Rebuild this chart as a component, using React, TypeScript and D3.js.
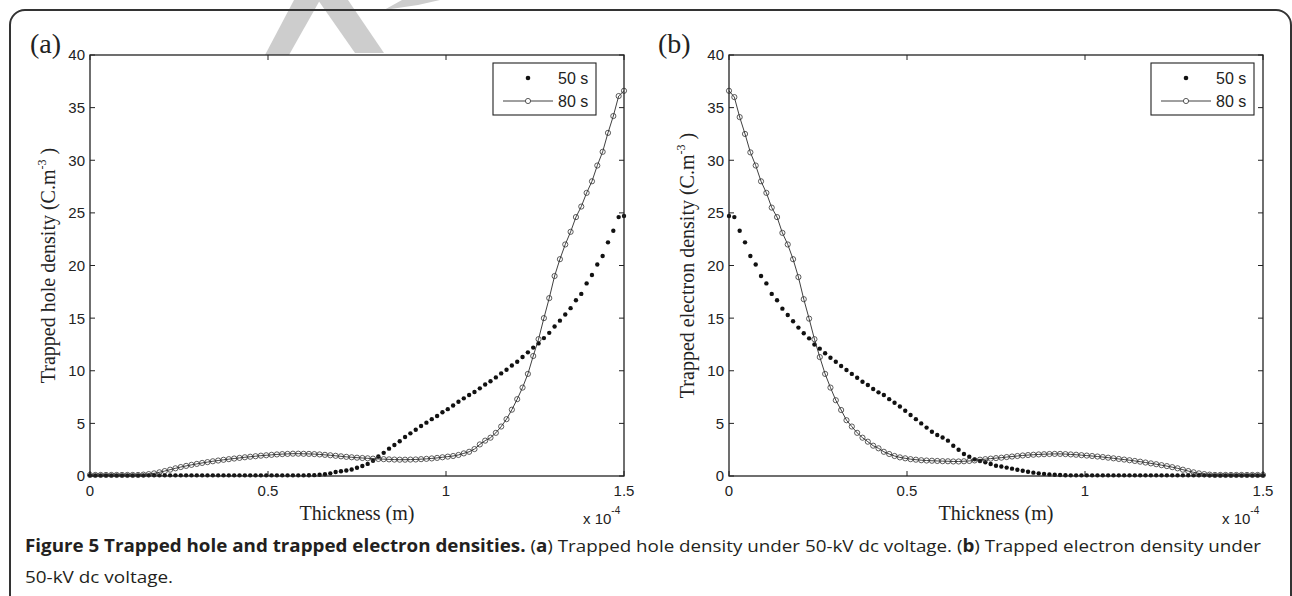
import React from 'react';
import * as d3 from 'd3';

// ---------- data ----------
const THICKNESS_STEP = 1.5e-6; // m, sample spacing of the simulation grid
const THICKNESS = d3.range(101).map((i) => i * THICKNESS_STEP);

// (a) trapped hole density, C.m^-3
const HOLE_50S = [
  0.06, 0.06, 0.06, 0.06, 0.06, 0.06, 0.06, 0.06, 0.06, 0.06,
  0.06, 0.06, 0.06, 0.06, 0.06, 0.06, 0.06, 0.06, 0.06, 0.06,
  0.06, 0.06, 0.06, 0.06, 0.06, 0.06, 0.06, 0.06, 0.06, 0.06,
  0.06, 0.06, 0.06, 0.06, 0.06, 0.06, 0.06, 0.06, 0.06, 0.06,
  0.06, 0.07, 0.08, 0.12, 0.17, 0.25, 0.38, 0.45, 0.52, 0.62,
  0.78, 0.95, 1.15, 1.45, 1.85, 2.2, 2.6, 2.95, 3.3, 3.7,
  4.05, 4.4, 4.75, 5.07, 5.4, 5.7, 6.05, 6.35, 6.7, 7.06,
  7.38, 7.7, 7.98, 8.33, 8.7, 9.0, 9.37, 9.75, 10.1, 10.5,
  10.86, 11.3, 11.75, 12.2, 12.6, 13.1, 13.6, 14.2, 14.76, 15.35,
  15.95, 16.7, 17.3, 18.3, 19.1, 20.1, 20.9, 22.2, 23.3, 24.6,
  24.7,
];
const HOLE_80S = [
  0.1, 0.1, 0.1, 0.1, 0.1, 0.1, 0.1, 0.1, 0.1, 0.1,
  0.13, 0.18, 0.25, 0.35, 0.47, 0.6, 0.73, 0.85, 0.96, 1.06,
  1.15, 1.24, 1.32, 1.4, 1.47, 1.54, 1.6, 1.66, 1.72, 1.78,
  1.83, 1.88, 1.93, 1.97, 2.01, 2.05, 2.08, 2.1, 2.12, 2.12,
  2.11, 2.1, 2.08, 2.05, 2.01, 1.97, 1.92, 1.87, 1.82, 1.78,
  1.74, 1.71, 1.68, 1.65, 1.62, 1.6, 1.58, 1.56, 1.55, 1.55,
  1.56, 1.57, 1.6, 1.63, 1.67, 1.72, 1.78, 1.84, 1.9, 2.0,
  2.15, 2.3, 2.56, 3.0, 3.36, 3.64, 4.1, 4.7, 5.4, 6.3,
  7.3, 8.4, 9.7, 11.4, 13.0, 15.0, 16.9, 19.0, 20.6, 22.0,
  23.2, 24.6, 25.6, 26.9, 28.0, 29.5, 30.8, 32.6, 34.2, 36.1,
  36.6,
];

// (b) trapped electron density, C.m^-3
const ELEC_50S = [
  24.7, 24.6, 23.3, 22.2, 20.9, 20.1, 19.0, 18.3, 17.3, 16.7,
  15.9, 15.3, 14.7, 14.1, 13.56, 13.08, 12.5, 12.1, 11.66, 11.24,
  10.86, 10.45, 10.07, 9.7, 9.34, 8.96, 8.65, 8.27, 7.95, 7.7,
  7.3, 6.96, 6.6, 6.2, 5.8, 5.4, 5.0, 4.6, 4.2, 3.9,
  3.66, 3.36, 2.88, 2.5, 2.09, 1.84, 1.58, 1.42, 1.3, 1.14,
  0.98, 0.9, 0.8, 0.7, 0.6, 0.5, 0.4, 0.32, 0.25, 0.2,
  0.15, 0.12, 0.09, 0.07, 0.06, 0.06, 0.06, 0.06, 0.06, 0.06,
  0.06, 0.06, 0.06, 0.06, 0.06, 0.06, 0.06, 0.06, 0.06, 0.06,
  0.06, 0.06, 0.06, 0.06, 0.06, 0.06, 0.06, 0.06, 0.06, 0.06,
  0.06, 0.06, 0.06, 0.06, 0.06, 0.06, 0.06, 0.06, 0.06, 0.06,
  0.06,
];
const ELEC_80S = [
  36.6, 36.0, 34.1, 32.5, 30.75, 29.5, 28.0, 26.9, 25.5, 24.6,
  23.1, 22.0, 20.6, 18.9, 16.8, 14.95, 13.0, 11.3, 9.7, 8.4,
  7.2, 6.27, 5.3, 4.7, 4.1, 3.64, 3.26, 2.88, 2.63, 2.3,
  2.09, 1.9, 1.77, 1.68, 1.6, 1.55, 1.5, 1.47, 1.45, 1.43,
  1.41, 1.4, 1.38, 1.38, 1.4, 1.43, 1.48, 1.55, 1.6, 1.65,
  1.7, 1.74, 1.8, 1.85, 1.9, 1.95, 1.99, 2.02, 2.05, 2.07,
  2.09, 2.1, 2.1, 2.08, 2.05, 2.02, 1.98, 1.94, 1.9, 1.85,
  1.8, 1.74, 1.68, 1.62, 1.56, 1.5, 1.43, 1.36, 1.28, 1.2,
  1.12, 1.03, 0.94, 0.84, 0.73, 0.6, 0.47, 0.35, 0.25, 0.18,
  0.13, 0.1, 0.1, 0.1, 0.1, 0.1, 0.1, 0.1, 0.1, 0.1,
  0.1,
];

const X_TICKS = [0, 0.5e-4, 1e-4, 1.5e-4];
const X_TICK_LABELS = ['0', '0.5', '1', '1.5'];
const Y_TICKS = [0, 5, 10, 15, 20, 25, 30, 35, 40];
const Y_TICK_LABELS = ['0', '5', '10', '15', '20', '25', '30', '35', '40'];
const SERIES_LABELS = ['50 s', '80 s'];
const X_LABEL = 'Thickness (m)';
const X_EXPONENT = '-4';
const Y_LABELS = ['Trapped hole density (C.m', 'Trapped electron density (C.m'];
const Y_EXPONENT = '-3';
const PANEL_TAGS = ['(a)', '(b)'];

// ---------- styles ----------
const INK = '#222';
const SANS = "'Liberation Sans', Arial, sans-serif";
const SERIF = "'Liberation Serif', 'Times New Roman', serif";

type PanelProps = {
  x0: number; x1: number; y0: number; y1: number;
  s50: number[]; s80: number[];
  yLabel: string; tag: string; tagX: number;
  legendX: number;
};

function Panel({ x0, x1, y0, y1, s50, s80, yLabel, tag, tagX, legendX }: PanelProps) {
  const xs = d3.scaleLinear().domain([0, 1.5e-4]).range([x0, x1]);
  const ys = d3.scaleLinear().domain([0, 40]).range([y1, y0]);
  const line = d3.line<number>().x((_, i) => xs(THICKNESS[i])).y((d) => ys(d));
  const tickLen = 5;
  const midY = (y0 + y1) / 2;
  const lx = x0 - 35;
  const legW = 103;
  const legH = 52;
  const legY = 63;
  return (
    <g>
      {/* panel tag */}
      <text x={tagX} y={53} fontFamily={SERIF} fontSize={28} fill={INK}>{tag}</text>

      {/* series 50 s: dots only */}
      {s50.map((v, i) => (
        <circle key={'d' + i} cx={xs(THICKNESS[i])} cy={ys(v)} r={2.2} fill="#111" />
      ))}
      {/* series 80 s: line with open circles */}
      <path d={line(s80) || ''} fill="none" stroke="#2a2a2a" strokeWidth={0.9} />
      {s80.map((v, i) => (
        <circle key={'c' + i} cx={xs(THICKNESS[i])} cy={ys(v)} r={2.6} fill="none" stroke="#333" strokeWidth={0.8} />
      ))}

      {/* axes box */}
      <rect x={x0} y={y0} width={x1 - x0} height={y1 - y0} fill="none" stroke={INK} strokeWidth={1.3} />
      {Y_TICKS.map((t, i) => (
        <g key={'yt' + i}>
          <line x1={x0} x2={x0 + tickLen} y1={ys(t)} y2={ys(t)} stroke={INK} strokeWidth={1} />
          <line x1={x1} x2={x1 - tickLen} y1={ys(t)} y2={ys(t)} stroke={INK} strokeWidth={1} />
          <text x={x0 - 5} y={ys(t)} dy="0.36em" textAnchor="end" fontFamily={SANS} fontSize={15} fill={INK}>
            {Y_TICK_LABELS[i]}
          </text>
        </g>
      ))}
      {X_TICKS.map((t, i) => (
        <g key={'xt' + i}>
          <line x1={xs(t)} x2={xs(t)} y1={y1} y2={y1 - tickLen} stroke={INK} strokeWidth={1} />
          <line x1={xs(t)} x2={xs(t)} y1={y0} y2={y0 + tickLen} stroke={INK} strokeWidth={1} />
          <text x={xs(t)} y={y1 + 20} textAnchor="middle" fontFamily={SANS} fontSize={15} fill={INK}>
            {X_TICK_LABELS[i]}
          </text>
        </g>
      ))}

      {/* x label */}
      <text x={(x0 + x1) / 2} y={520} textAnchor="middle" fontFamily={SERIF} fontSize={20} fill={INK}>
        {X_LABEL}
      </text>
      <text x={x1 - 41} y={524} fontFamily={SANS} fontSize={15} fill={INK}>
        x 10
        <tspan dy={-10} fontSize={10}>{X_EXPONENT}</tspan>
      </text>

      {/* y label */}
      <text
        transform={`translate(${lx},${midY}) rotate(-90)`}
        textAnchor="middle"
        fontFamily={SERIF}
        fontSize={20}
        fill={INK}
      >
        {yLabel}
        <tspan dy={-9} fontSize={12}>{Y_EXPONENT}</tspan>
        <tspan dy={9}> )</tspan>
      </text>

      {/* legend */}
      <rect x={legendX} y={legY} width={legW} height={legH} fill="#fff" stroke={INK} strokeWidth={1.1} />
      <circle cx={legendX + 35} cy={legY + 15} r={2.3} fill="#111" />
      <line x1={legendX + 10} x2={legendX + 60} y1={legY + 38} y2={legY + 38} stroke="#2a2a2a" strokeWidth={0.9} />
      <circle cx={legendX + 35} cy={legY + 38} r={2.6} fill="#fff" stroke="#333" strokeWidth={0.8} />
      <text x={legendX + 65} y={legY + 15} dy="0.36em" fontFamily={SANS} fontSize={16} fill={INK}>{SERIES_LABELS[0]}</text>
      <text x={legendX + 65} y={legY + 38} dy="0.36em" fontFamily={SANS} fontSize={16} fill={INK}>{SERIES_LABELS[1]}</text>
    </g>
  );
}

export default function App() {
  const capFont = "'Open Sans', 'Noto Sans', sans-serif";
  const capInk = '#231f20';
  return (
    <svg
      width={1292}
      height={596}
      viewBox="0 0 1292 596"
      style={{ position: 'absolute', left: 0, top: 0, background: '#fff' }}
    >
      <rect x={0} y={0} width={1292} height={596} fill="#fff" />
      {/* faint watermark */}
      <g fill="#cdcdcd">
        <polygon points="265,55 289,55 320,0 294,0" />
        <polygon points="318,0 348,0 384,53 355,53" />
        <polygon points="384,10 402,0 440,0 418,5" />
      </g>
      {/* outer frame */}
      <rect x={10} y={10} width={1281} height={700} rx={15} fill="none" stroke="#333" strokeWidth={2} />

      <Panel x0={90} x1={624} y0={55} y1={476} s50={HOLE_50S} s80={HOLE_80S}
        yLabel={Y_LABELS[0]} tag={PANEL_TAGS[0]} tagX={30} legendX={493} />
      <Panel x0={729} x1={1263} y0={55} y1={476} s50={ELEC_50S} s80={ELEC_80S}
        yLabel={Y_LABELS[1]} tag={PANEL_TAGS[1]} tagX={658} legendX={1151} />

      {/* caption */}
      <text x={25} y={552} fontFamily={capFont} fontSize={17} fill={capInk} textLength={1236} lengthAdjust="spacingAndGlyphs">
        <tspan fontWeight="bold">Figure 5 Trapped hole and trapped electron densities.</tspan>
        <tspan> (</tspan>
        <tspan fontWeight="bold">a</tspan>
        <tspan>) Trapped hole density under 50-kV dc voltage. (</tspan>
        <tspan fontWeight="bold">b</tspan>
        <tspan>) Trapped electron density under</tspan>
      </text>
      <text x={25} y={583} fontFamily={capFont} fontSize={17} fill={capInk} textLength={148} lengthAdjust="spacingAndGlyphs">
        50-kV dc voltage.
      </text>
    </svg>
  );
}
